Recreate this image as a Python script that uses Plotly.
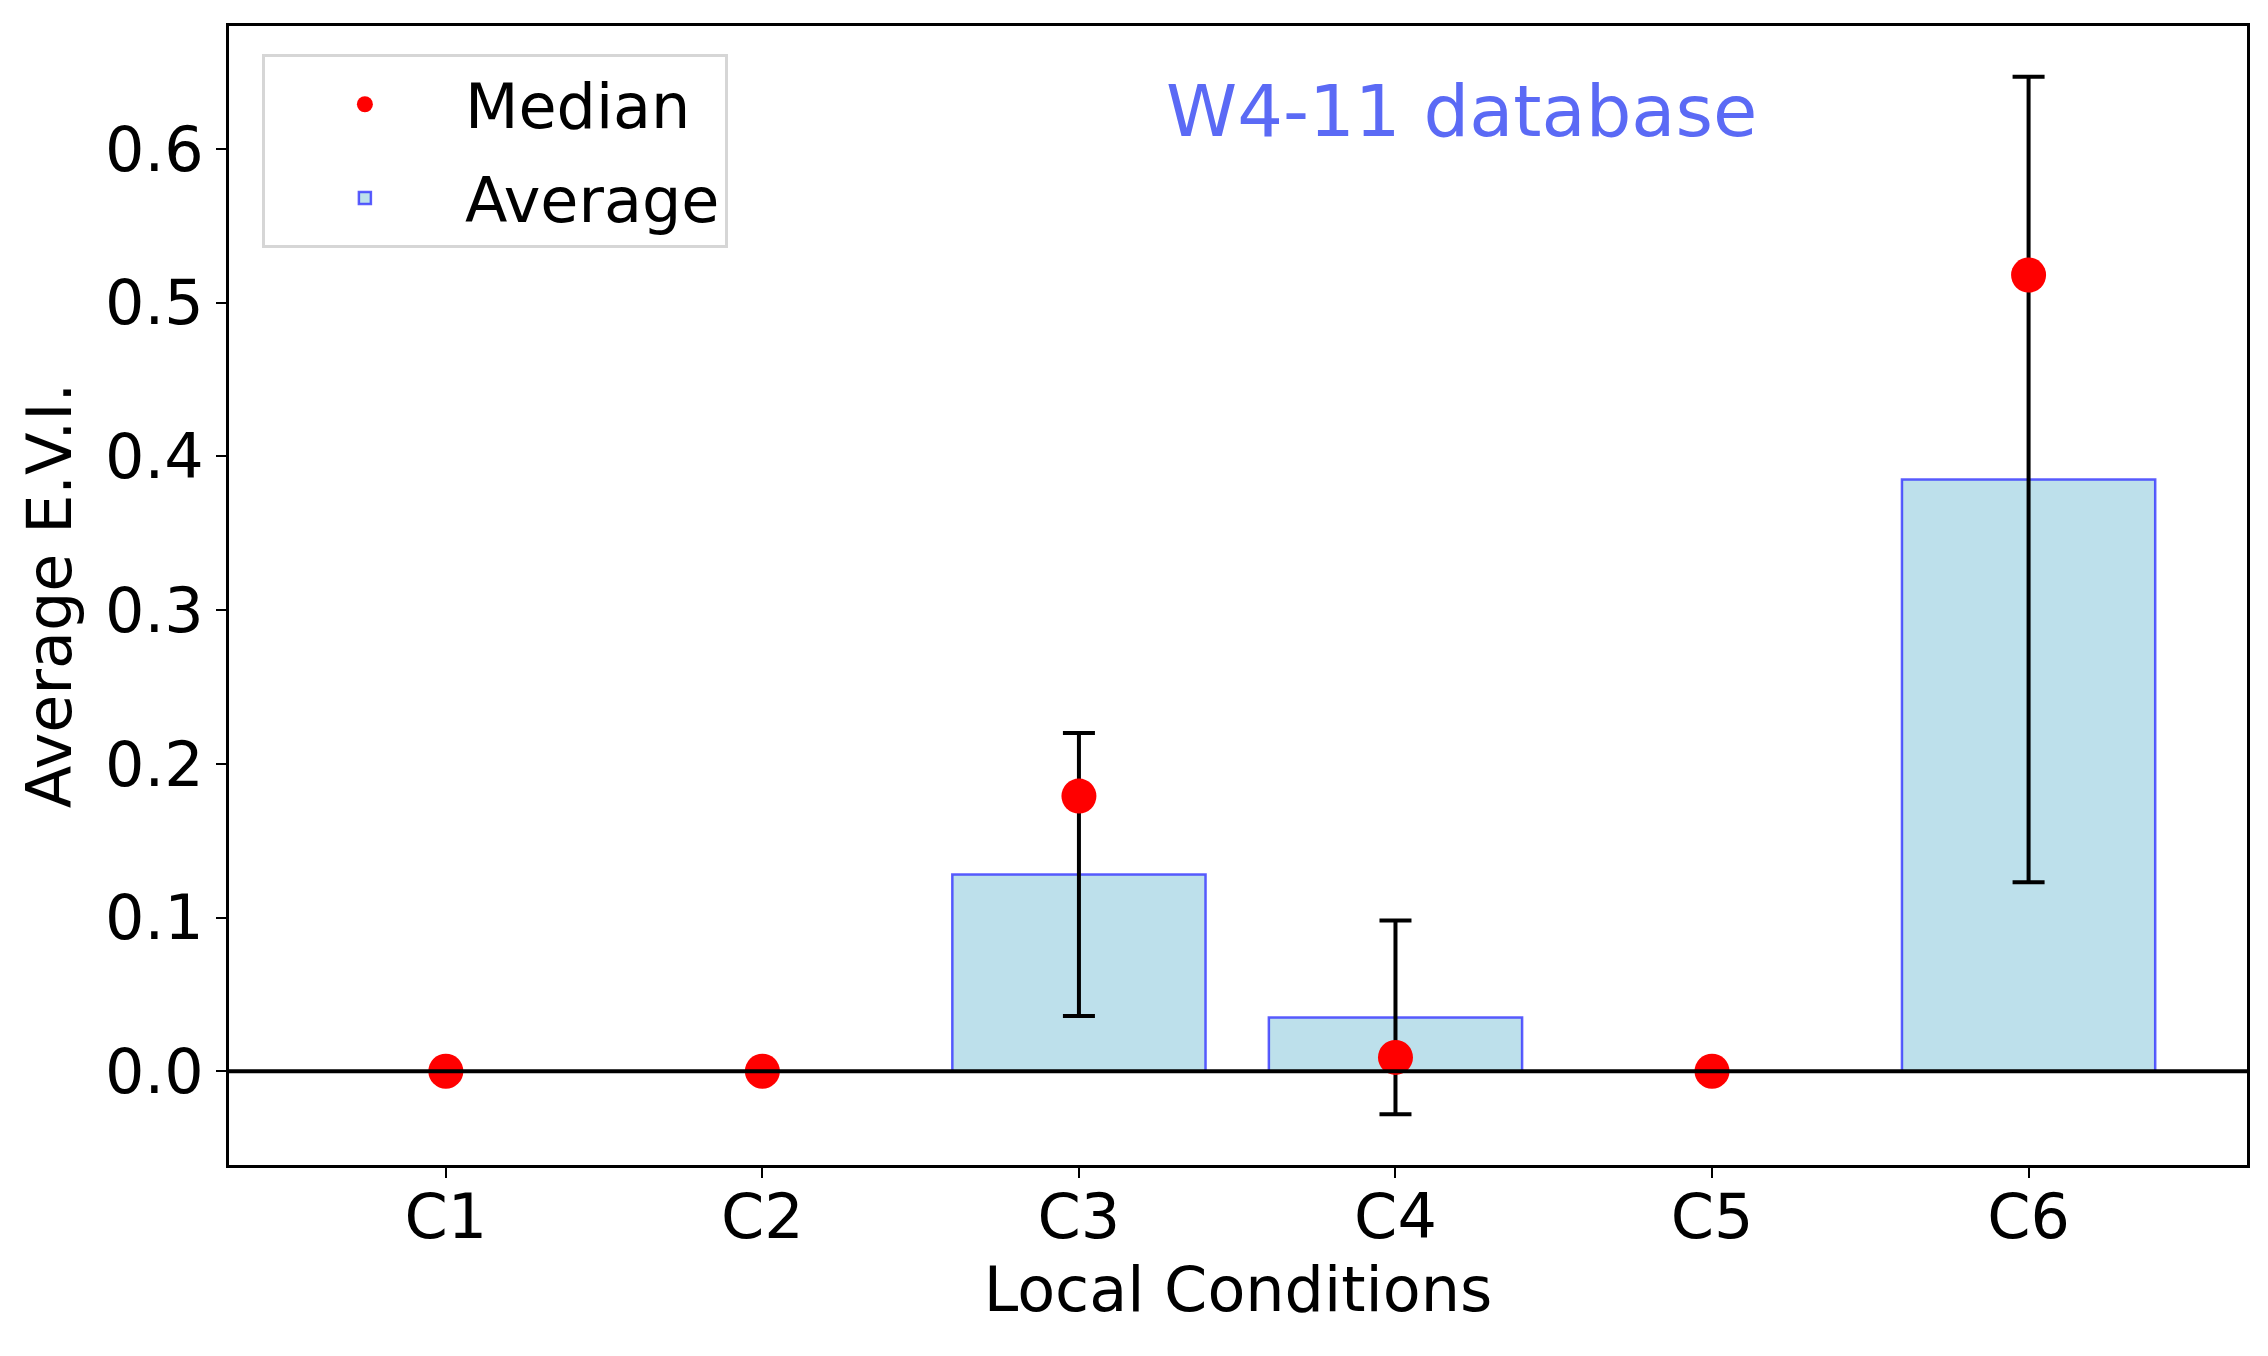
import plotly.graph_objects as go

# values
conditions = ["C1", "C2", "C3", "C4", "C5", "C6"]
average_evi = [0.0, 0.0, 0.128, 0.035, 0.0, 0.385]
error_evi = [0.0, 0.0, 0.092, 0.063, 0.0, 0.262]
median_evi = [0.0, 0.0, 0.179, 0.009, 0.0, 0.518]

FONT = "DejaVu Sans"
FS = 62

fig = go.Figure()

fig.add_trace(go.Bar(
    x=conditions, y=average_evi, name="Average", width=0.8,
    marker=dict(color="rgba(173,216,230,0.8)",
                line=dict(color="rgba(40,40,255,0.75)", width=2.5)),
    error_y=dict(type="data", array=error_evi, visible=True,
                 color="black", thickness=4, width=16),
    legendgroup="avg", legendrank=2,
))

fig.add_trace(go.Scatter(
    x=conditions, y=median_evi, name="Median", mode="markers",
    marker=dict(color="red", size=35, line=dict(width=0)),
    legendgroup="med", legendrank=1,
))

# black horizontal line at zero (drawn on top, like axhline)
fig.add_shape(type="line", xref="paper", x0=0, x1=1, yref="y", y0=0, y1=0,
              line=dict(color="black", width=4), layer="above")

fig.add_annotation(text="W4-11 database", xref="paper", yref="paper",
                   x=0.611, y=0.925, xanchor="center", yanchor="middle",
                   showarrow=False,
                   font=dict(family=FONT, size=72, color="#5b6af5"))

fig.update_layout(
    width=2268, height=1356,
    margin=dict(l=221, r=29, t=18, b=199),
    paper_bgcolor="white", plot_bgcolor="white",
    font=dict(family=FONT, size=FS, color="black"),
    showlegend=True,
    legend=dict(x=0.0163, y=0.975, xanchor="left", yanchor="top",
                bgcolor="rgba(255,255,255,0.8)", bordercolor="#d6d6d6",
                borderwidth=3, font=dict(size=FS), itemsizing="trace",
                itemwidth=190, traceorder="grouped", tracegroupgap=10),
    bargap=0.2,
)

fig.update_xaxes(
    range=[-0.685, 5.69], showline=True, linecolor="black", linewidth=3,
    mirror=True, ticks="outside", ticklen=10, tickwidth=2, tickcolor="black",
    showgrid=False, tickfont=dict(size=FS), ticklabelstandoff=-14,
    title=dict(text="Local Conditions", font=dict(size=FS), standoff=0),
)
fig.update_yaxes(
    range=[-0.061, 0.68], showline=True, linecolor="black", linewidth=3,
    mirror=True, ticks="outside", ticklen=10, tickwidth=2, tickcolor="black",
    showgrid=False, zeroline=False, tick0=0, dtick=0.1, tickformat=".1f",
    tickfont=dict(size=FS),
    title=dict(text="Average E.V.I.", font=dict(size=FS), standoff=14),
)

fig.write_html("out.html")
